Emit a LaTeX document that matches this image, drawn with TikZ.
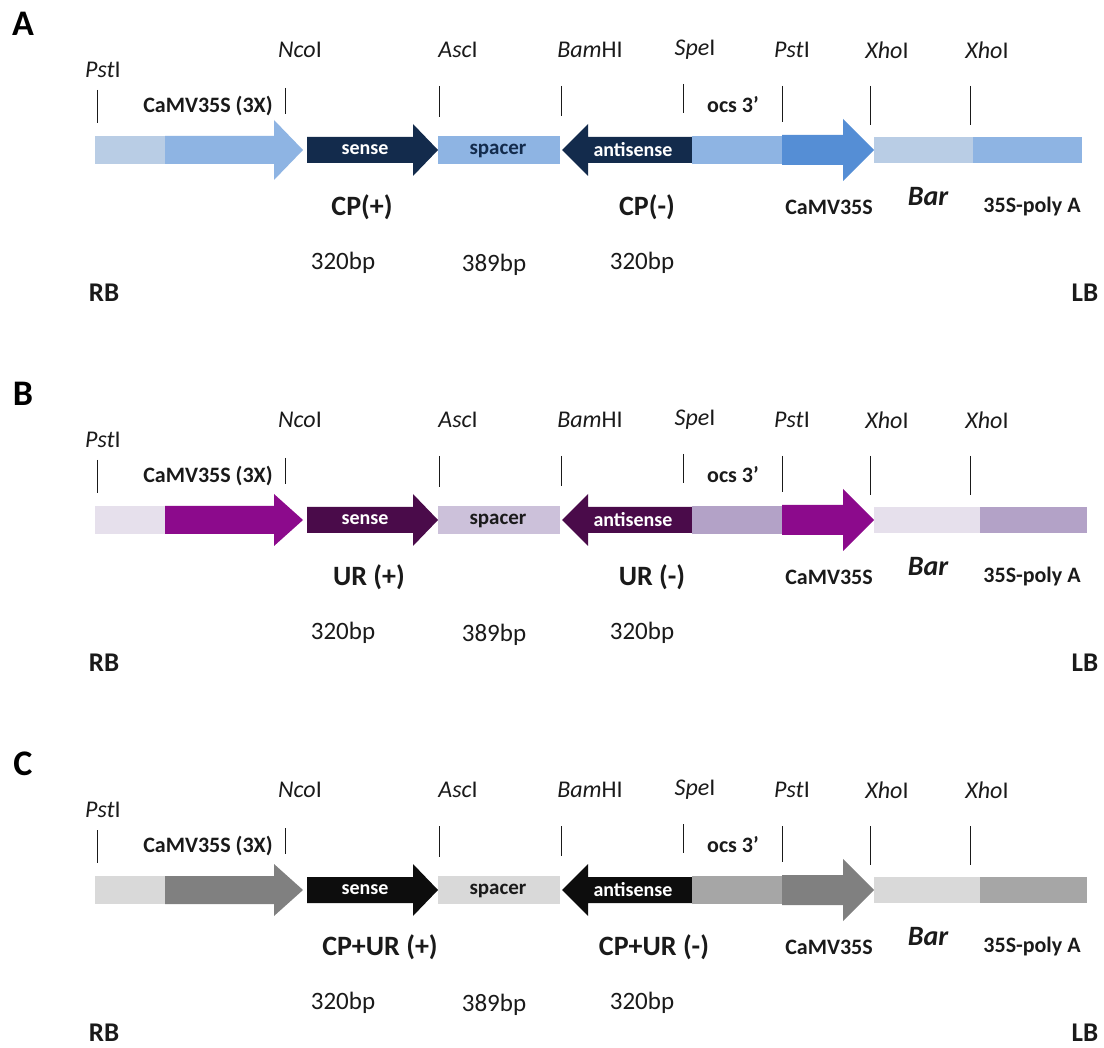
\documentclass[tikz,border=0pt]{standalone}
\usepackage{fontspec}
\setmainfont{Carlito}
\definecolor{Alight}{HTML}{B9CDE5}
\definecolor{Aprom}{HTML}{8EB4E3}
\definecolor{Adark}{HTML}{132B4C}
\definecolor{Aspacer}{HTML}{8EB4E3}
\definecolor{Aocs}{HTML}{8EB4E3}
\definecolor{Aprom2}{HTML}{558ED5}
\definecolor{Abar}{HTML}{B9CDE5}
\definecolor{Apoly}{HTML}{8EB4E3}
\definecolor{Asptext}{HTML}{132B4C}
\definecolor{Blight}{HTML}{E6E0EC}
\definecolor{Bprom}{HTML}{8C0A8C}
\definecolor{Bdark}{HTML}{4A0B4A}
\definecolor{Bspacer}{HTML}{CCC1DA}
\definecolor{Bocs}{HTML}{B3A2C7}
\definecolor{Bprom2}{HTML}{8C0A8C}
\definecolor{Bbar}{HTML}{E6E0EC}
\definecolor{Bpoly}{HTML}{B3A2C7}
\definecolor{Bsptext}{HTML}{1A1A1A}
\definecolor{Clight}{HTML}{D9D9D9}
\definecolor{Cprom}{HTML}{808080}
\definecolor{Cdark}{HTML}{0D0D0D}
\definecolor{Cspacer}{HTML}{D9D9D9}
\definecolor{Cocs}{HTML}{A6A6A6}
\definecolor{Cprom2}{HTML}{808080}
\definecolor{Cbar}{HTML}{D9D9D9}
\definecolor{Cpoly}{HTML}{A6A6A6}
\definecolor{Csptext}{HTML}{1A1A1A}
\definecolor{txt}{HTML}{1A1A1A}
\tikzset{
  lbl/.style={inner sep=0pt, text=txt},
  enz/.style={lbl, font=\fontsize{24}{28}\selectfont},
  smallbold/.style={lbl, font=\fontsize{22}{25}\selectfont\bfseries},
  bigbold/.style={lbl, font=\fontsize{28}{32}\selectfont\bfseries},
  bpsize/.style={lbl, font=\fontsize{25}{28}\selectfont},
  border/.style={lbl, font=\fontsize{27}{30}\selectfont\bfseries},
  letter/.style={lbl, text=black, font=\fontsize{36}{40}\selectfont\bfseries},
  inside/.style={inner sep=0pt, text=white, font=\fontsize{20}{22}\selectfont\bfseries},
  spacertext/.style={inner sep=0pt, font=\fontsize{21}{24}\selectfont\bfseries},
  barlbl/.style={lbl, font=\fontsize{28}{32}\selectfont\bfseries\itshape},
  tick/.style={draw=txt, line width=1pt},
}
% #1 prefix, #2 y offset, #3 plus label, #4 minus label, #5 promoter head half-height,
% #6 Bar/polyA boundary, #7 polyA end, #8 plus label x, #9 minus label x
\newcommand{\drawpanel}[9]{%
\begin{scope}[yshift=-#2pt]
  % track elements
  \fill[#1light] (95,136) rectangle (165,164);
  \fill[#1prom] (165,136) -- (274,136) -- (274,{150-#5}) -- (303,150) -- (274,{150+#5}) -- (274,164) -- (165,164) -- cycle;
  \fill[#1dark] (307,137) -- (413,137) -- (413,124) -- (438,150) -- (413,176) -- (413,163) -- (307,163) -- cycle;
  \fill[#1spacer] (438,136) rectangle (560,164);
  \fill[#1dark] (562,150) -- (588,124) -- (588,137) -- (692,137) -- (692,163) -- (588,163) -- (588,176) -- cycle;
  \fill[#1ocs] (692,136) rectangle (782,164);
  \fill[#1prom2] (782,135) -- (843,135) -- (843,119) -- (874,150) -- (843,181) -- (843,165) -- (782,165) -- cycle;
  \fill[#1bar] (874,137) rectangle (#6,163);
  \fill[#1poly] (#6,137) rectangle (#7,163);
  % restriction site ticks
  \draw[tick] (97,90) -- (97,123);
  \draw[tick] (285,88) -- (285,114);
  \draw[tick] (439,86) -- (439,117);
  \draw[tick] (561,86) -- (561,116);
  \draw[tick] (683,84) -- (683,113);
  \draw[tick] (782,86) -- (782,122);
  \draw[tick] (870,86) -- (870,125);
  \draw[tick] (970,86) -- (970,125);
  % labels
  \node[letter] (#1-letter) at (23,24) {#1};
  \node[enz] (#1-pst1) at (103,70) {\textit{Pst}I};
  \node[enz] (#1-nco) at (300,50) {\textit{Nco}I};
  \node[enz] (#1-asc) at (458,50) {\textit{Asc}I};
  \node[enz] (#1-bam) at (590,50) {\textit{Bam}HI};
  \node[enz] (#1-spe) at (695,50) {\textit{Spe}I};
  \node[enz] (#1-pst2) at (792,50) {\textit{Pst}I};
  \node[enz] (#1-xho1) at (887,50) {\textit{Xho}I};
  \node[enz] (#1-xho2) at (987,50) {\textit{Xho}I};
  \node[smallbold] (#1-prom3x) at (208,106) {CaMV35S (3X)};
  \node[smallbold] (#1-ocs) at (733,105) {ocs 3’};
  \node[inside] (#1-sense) at (365,150) {sense};
  \node[spacertext, text=#1sptext] (#1-spacer) at (498,151) {spacer};
  \node[inside] (#1-antisense) at (633,150) {antisense};
  \node[bigbold] (#1-plus) at (#8,207) {#3};
  \node[bigbold] (#1-minus) at (#9,207) {#4};
  \node[smallbold] (#1-camv) at (829,207) {CaMV35S};
  \node[barlbl] (#1-bar) at (928,197) {Bar};
  \node[smallbold] (#1-polyA) at (1032,207) {35S-poly A};
  \node[bpsize] (#1-bp1) at (343,263) {320bp};
  \node[bpsize] (#1-bp2) at (494,265) {389bp};
  \node[bpsize] (#1-bp3) at (642,263) {320bp};
  \node[border] (#1-rb) at (104,293) {RB};
  \node[border] (#1-lb) at (1085,293) {LB};
\end{scope}}
\begin{document}
\begin{tikzpicture}[x=1pt, y=-1pt]
  \useasboundingbox[fill=white] (0,0) rectangle (1104,1048);
  \drawpanel{A}{0}{CP(+)}{CP(-)}{30}{973}{1082}{362}{647}
  \drawpanel{B}{370}{UR (+)}{UR (-)}{26}{980}{1087}{369}{652}
  \drawpanel{C}{740}{CP+UR (+)}{CP+UR (-)}{26}{980}{1087}{380}{654}
\end{tikzpicture}
\end{document}
